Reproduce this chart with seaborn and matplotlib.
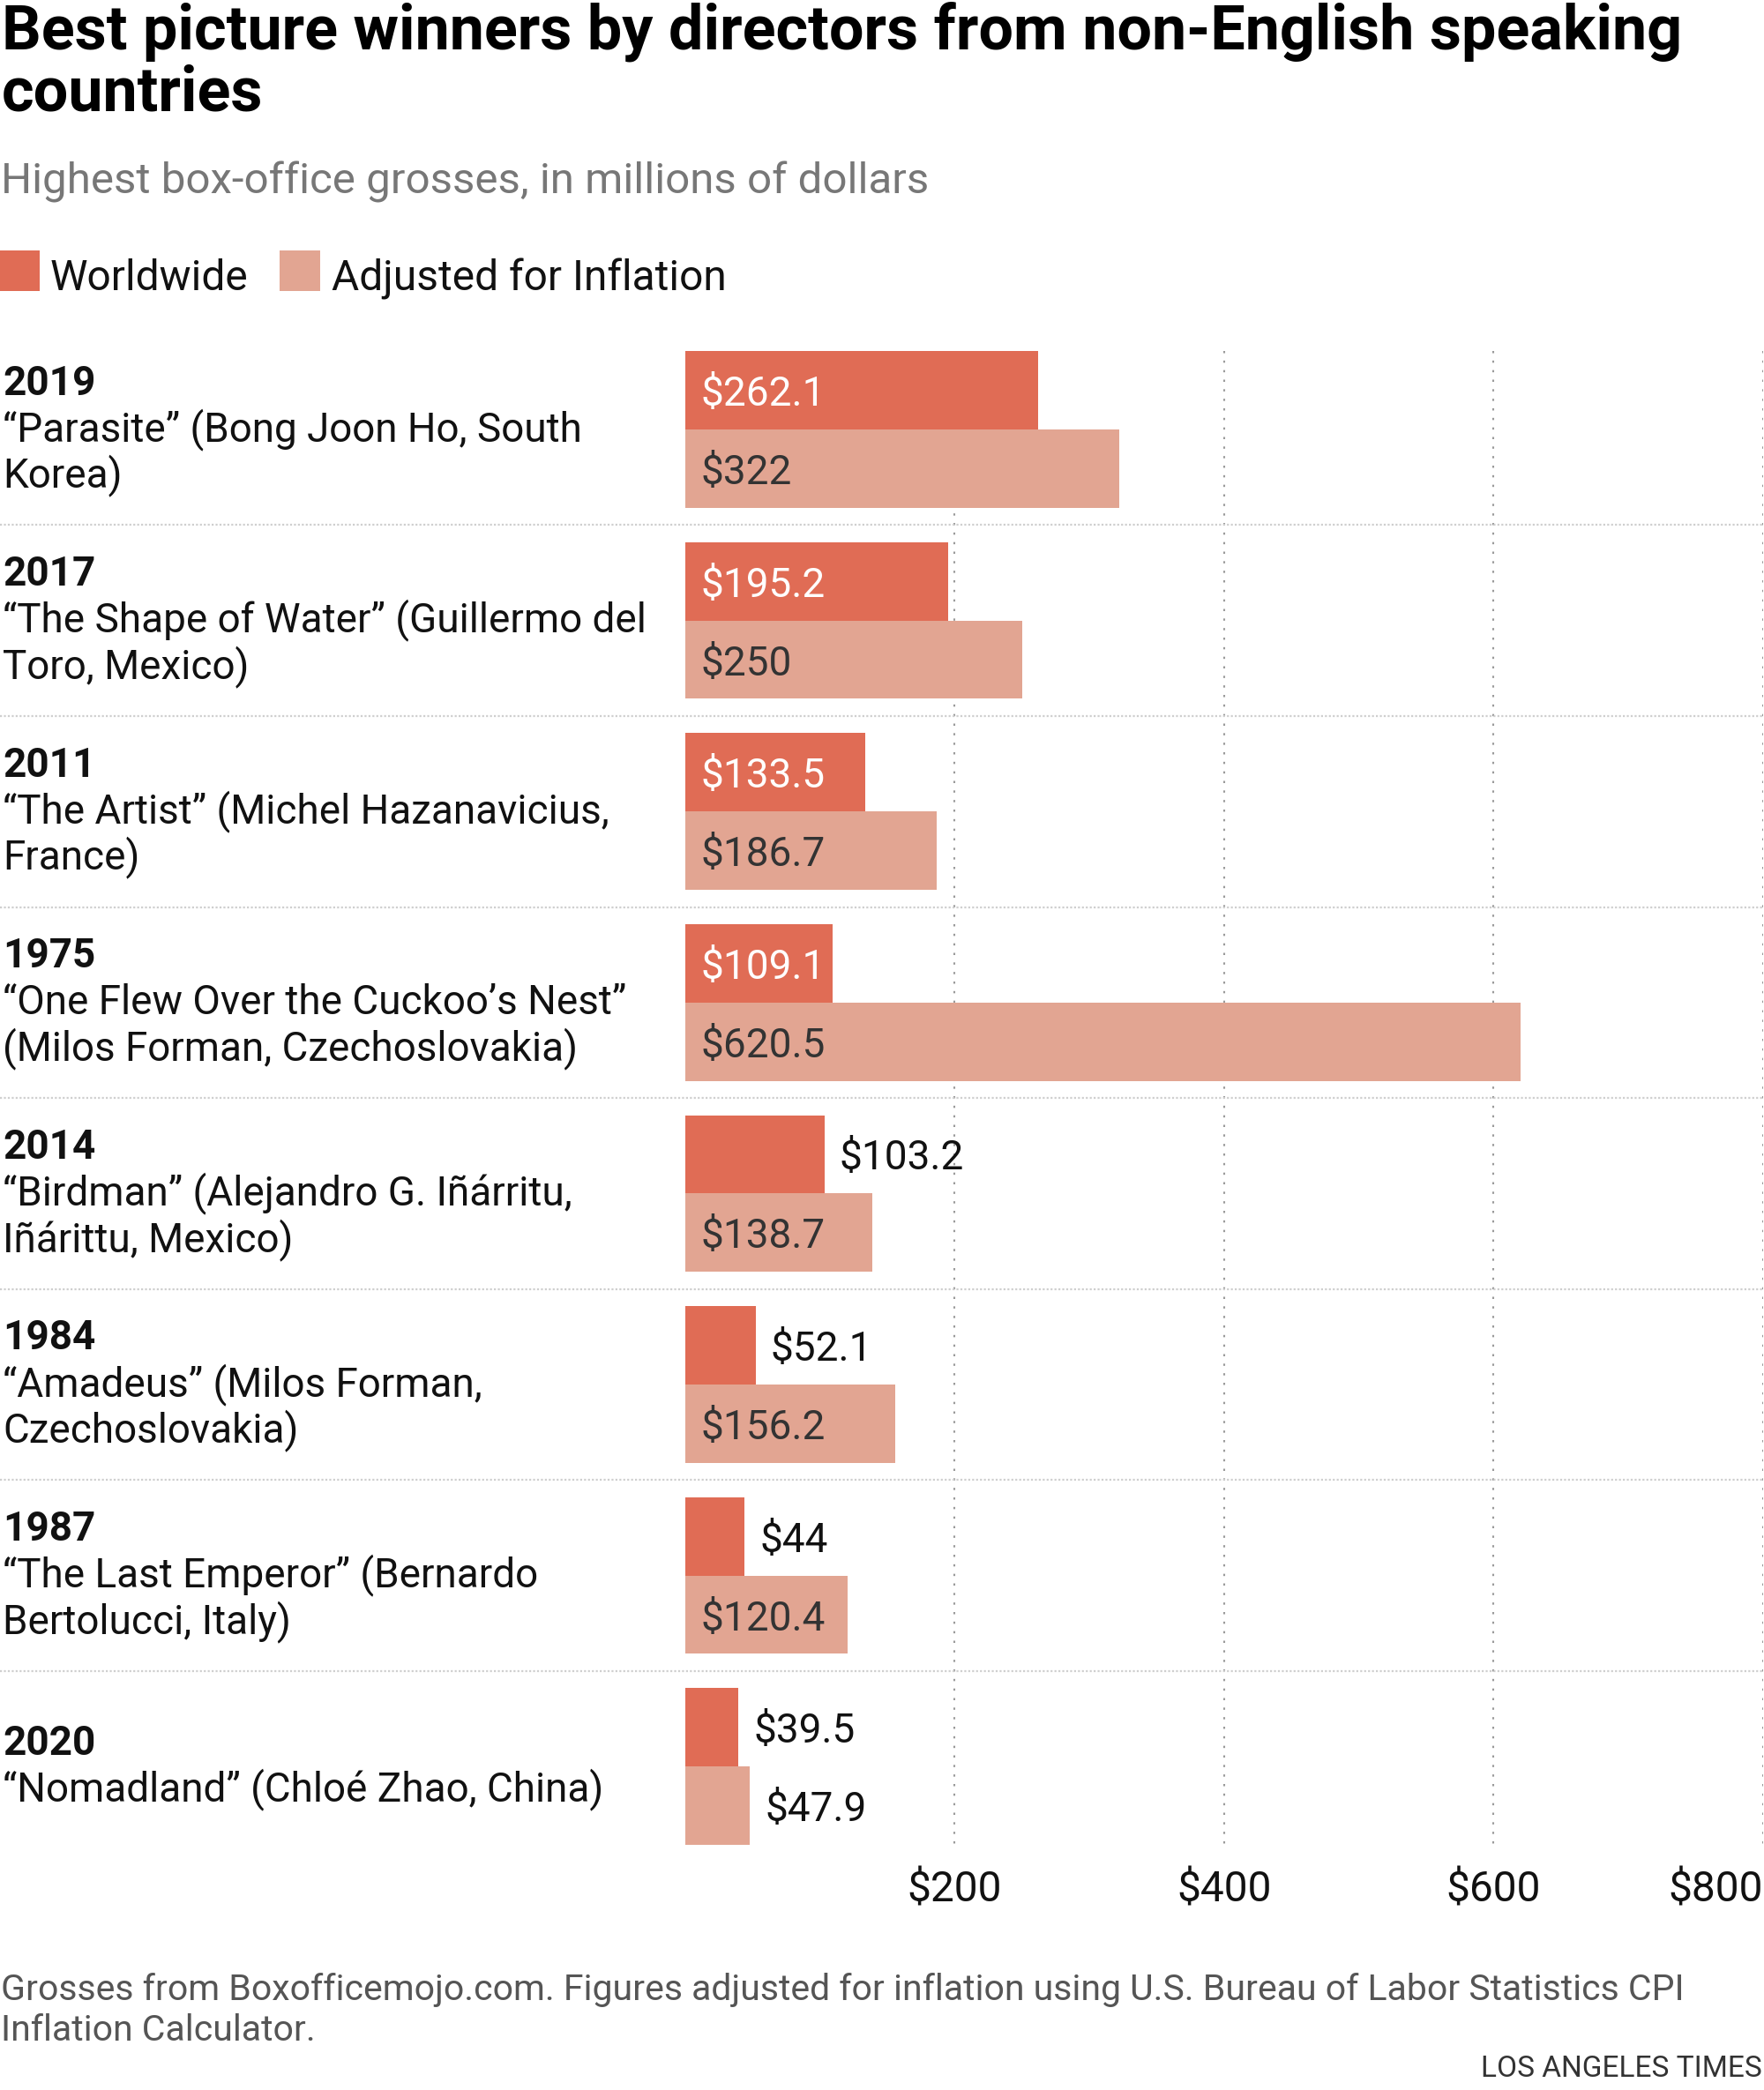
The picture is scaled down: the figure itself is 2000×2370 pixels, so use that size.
import matplotlib
matplotlib.use("Agg")
import matplotlib.pyplot as plt
from matplotlib.font_manager import FontProperties
from matplotlib.transforms import blended_transform_factory
from matplotlib.patches import Rectangle
import seaborn as sns
import pandas as pd

# ---------------- data ----------------
years = ["2019", "2017", "2011", "1975", "2014", "1984", "1987", "2020"]
descriptions = [
    ["\u201cParasite\u201d (Bong Joon Ho, South", "Korea)"],
    ["\u201cThe Shape of Water\u201d (Guillermo del", "Toro, Mexico)"],
    ["\u201cThe Artist\u201d (Michel Hazanavicius,", "France)"],
    ["\u201cOne Flew Over the Cuckoo\u2019s Nest\u201d", "(Milos Forman, Czechoslovakia)"],
    ["\u201cBirdman\u201d (Alejandro G. I\u00f1\u00e1rritu,", "I\u00f1\u00e1rittu, Mexico)"],
    ["\u201cAmadeus\u201d (Milos Forman,", "Czechoslovakia)"],
    ["\u201cThe Last Emperor\u201d (Bernardo", "Bertolucci, Italy)"],
    ["\u201cNomadland\u201d (Chlo\u00e9 Zhao, China)"],
]
worldwide = [262.1, 195.2, 133.5, 109.1, 103.2, 52.1, 44, 39.5]
adjusted = [322, 250, 186.7, 620.5, 138.7, 156.2, 120.4, 47.9]
series_names = ["Worldwide", "Adjusted for Inflation"]
x_ticks = [200, 400, 600, 800]
x_tick_labels = ["$200", "$400", "$600", "$800"]

title_lines = ["Best picture winners by directors from non-English speaking", "countries"]
subtitle = "Highest box-office grosses, in millions of dollars"
footer_lines = ["Grosses from Boxofficemojo.com. Figures adjusted for inflation using U.S. Bureau of Labor Statistics CPI",
                "Inflation Calculator."]
credit = "LOS ANGELES TIMES"

# ---------------- style ----------------
C_WORLD = "#E06C55"
C_ADJ = "#E2A592"

sns.set_theme(style="white")
plt.rcParams["font.family"] = ["Roboto", "DejaVu Sans"]


def FP(size, weight="normal"):
    return FontProperties(family=["Roboto", "DejaVu Sans"], weight=weight, size=size)


W, H = 2000, 2370
fig = plt.figure(figsize=(W / 100, H / 100), dpi=100)


def fx(px):
    return px / W


def fy(py):
    return 1 - py / H


# axes: x=0 at 777px, x=800 at 1998px ; row 0 center at 487px, pitch 216.6px
ROW_PX = 216.6
top_px = 487 - 0.5 * ROW_PX
bot_px = top_px + 8 * ROW_PX
ax = fig.add_axes([fx(777), fy(bot_px), fx(1998.5) - fx(777), (bot_px - top_px) / H])

df = pd.DataFrame({
    "film": years * 2,
    "value": worldwide + adjusted,
    "series": [series_names[0]] * len(years) + [series_names[1]] * len(years),
})

sns.barplot(data=df, x="value", y="film", hue="series", hue_order=series_names,
            order=years, orient="h", palette=[C_WORLD, C_ADJ], saturation=1,
            width=0.82, gap=0, dodge=True, legend=False, linewidth=0, ax=ax, zorder=3)

ax.set_xlim(0, 800)
ax.set_ylim(len(years) - 0.5, -0.5)
for s in ax.spines.values():
    s.set_visible(False)
ax.set_xlabel("")
ax.set_ylabel("")
ax.set_yticks([])
ax.grid(False)
ax.set_facecolor("none")

# vertical dotted gridlines spanning bar extent
ax.vlines(x_ticks, -0.41, len(years) - 1 + 0.41, colors="#9a9a9a", linewidth=1.5,
          linestyles=(0, (1.2, 4.0)), zorder=1)

# ticks
ax.set_xticks(x_ticks)
ax.set_xticklabels(x_tick_labels)
ax.tick_params(axis="x", length=0, pad=6.5, colors="#111111")
for i, lbl in enumerate(ax.get_xticklabels()):
    lbl.set_fontproperties(FP(34.5))
    lbl.set_color("#111111")
    if i == len(x_ticks) - 1:
        lbl.set_horizontalalignment("right")

# horizontal separators across full width
tr_fig_data = blended_transform_factory(fig.transFigure, ax.transData)
for i in range(len(years) - 1):
    ax.plot([0, 1], [i + 0.5, i + 0.5], transform=tr_fig_data, clip_on=False,
            color="#cfcfcf", linewidth=1.6, linestyle=(0, (1, 1)), zorder=1)

# value labels
for ci, cont in enumerate(ax.containers):
    for bar in cont:
        v = bar.get_width()
        yc = bar.get_y() + bar.get_height() / 2
        txt = f"${v:g}"
        if v >= 105:
            color = "white" if ci == 0 else "#333333"
            ax.annotate(txt, (0, yc), xytext=(12.5, 0), textcoords="offset points",
                        ha="left", va="center_baseline", color=color, fontproperties=FP(33), zorder=5)
        else:
            ax.annotate(txt, (v, yc), xytext=(12.5, 0), textcoords="offset points",
                        ha="left", va="center_baseline", color="#111111", fontproperties=FP(33), zorder=5)

# row labels (year bold + description)
LINE_PX = 52.5
for i, (yr, desc) in enumerate(zip(years, descriptions)):
    lines = [yr] + desc
    n = len(lines)
    for j, line in enumerate(lines):
        off_px = 13 + (j - (n - 1) / 2) * LINE_PX
        ax.text(0.0015, i + off_px / ROW_PX, line, transform=tr_fig_data, ha="left", va="baseline",
                fontproperties=FP(33, "bold" if j == 0 else "normal"), color="#111111", clip_on=False)

# title / subtitle
fig.text(fx(2), fy(56), title_lines[0], fontproperties=FP(50.5, "bold"), color="#000000", va="baseline")
fig.text(fx(2), fy(125), title_lines[1], fontproperties=FP(50.5, "bold"), color="#000000", va="baseline")
fig.text(fx(1), fy(219), subtitle, fontproperties=FP(35.5), color="#777777", va="baseline")

# legend
fig.add_artist(Rectangle((fx(0), fy(330)), fx(45), 46 / H, transform=fig.transFigure, color=C_WORLD, lw=0))
fig.text(fx(57), fy(329), series_names[0], fontproperties=FP(34.5), color="#111111", va="baseline")
fig.add_artist(Rectangle((fx(317), fy(330)), fx(46), 46 / H, transform=fig.transFigure, color=C_ADJ, lw=0))
fig.text(fx(376), fy(329), series_names[1], fontproperties=FP(34.5), color="#111111", va="baseline")

# footer
fig.text(fx(1), fy(2268), footer_lines[0], fontproperties=FP(29.5), color="#555555", va="baseline")
fig.text(fx(1), fy(2314), footer_lines[1], fontproperties=FP(29.5), color="#555555", va="baseline")
fig.text(fx(1998), fy(2355), credit, fontproperties=FP(24), color="#333333", va="baseline", ha="right")

fig.savefig("out.png", dpi=100)
